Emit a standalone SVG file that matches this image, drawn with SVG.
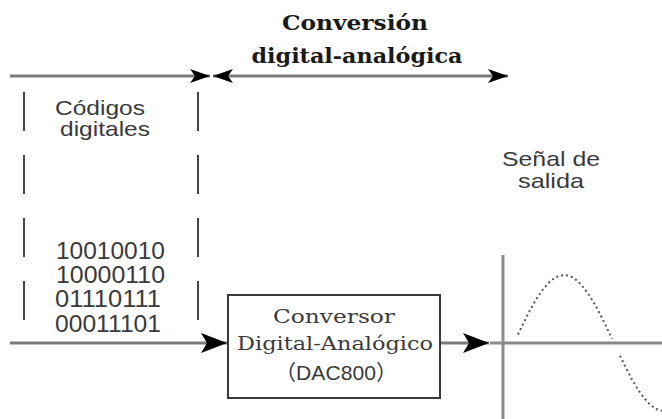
<svg xmlns="http://www.w3.org/2000/svg" width="662" height="419" viewBox="0 0 662 419">
<style>
.title{font-family:"DejaVu Serif","Liberation Serif",serif;font-weight:bold;font-size:21px;fill:#1a1a1a}
.sans{font-family:"Liberation Sans",Arial,sans-serif;font-size:21px;fill:#3a3a3a}
.bin{font-family:"Liberation Sans",Arial,sans-serif;font-size:23px;fill:#3a3a3a}
.serif{font-family:"DejaVu Serif","Liberation Serif",serif;font-size:19px;fill:#3a3a3a}
.cjk{font-family:"Liberation Sans","Noto Sans CJK JP",sans-serif;font-size:21px;fill:#3a3a3a}
.line{stroke:#7a7a7a;stroke-width:3;fill:none}
.dash{stroke:#444;stroke-width:2;stroke-dasharray:39 24;fill:none}
.axis{stroke:#8a8a8a;stroke-width:3;fill:none}
.wave{stroke:#555;stroke-width:2;stroke-dasharray:2 3;fill:none}
.box{fill:#fff;stroke:#3a3a3a;stroke-width:2}
</style>
<defs>
<marker id="ahs" viewBox="0 0 20 14" refX="20" refY="7" markerWidth="20" markerHeight="14" markerUnits="userSpaceOnUse" orient="auto-start-reverse">
<path d="M0,0 L20,7 L0,14 L5,7 Z" fill="#000"/>
</marker>
<marker id="ahb" viewBox="0 0 26 20" refX="26" refY="10" markerWidth="26" markerHeight="20" markerUnits="userSpaceOnUse" orient="auto">
<path d="M0,0 L26,10 L0,20 L6,10 Z" fill="#000"/>
</marker>
</defs>
<g id="title">
<text class="title" x="355" y="30" text-anchor="middle" textLength="146" lengthAdjust="spacingAndGlyphs">Conversión</text>
<text class="title" x="357" y="63" text-anchor="middle" textLength="211" lengthAdjust="spacingAndGlyphs">digital-analógica</text>
</g>
<g id="connectors">
<path class="line" d="M10,76 H210" marker-end="url(#ahs)"/>
<path class="line" d="M213,76 H508" marker-start="url(#ahs)" marker-end="url(#ahs)"/>
<path class="dash" d="M24,92 V322"/>
<path class="dash" d="M198,92 V322"/>
<path class="line" d="M10,343 H227" marker-end="url(#ahb)"/>
<path class="line" d="M440,343 H489" marker-end="url(#ahb)"/>
</g>
<g id="codigos">
<text class="sans" x="55" y="115" textLength="90" lengthAdjust="spacingAndGlyphs">Códigos</text>
<text class="sans" x="60" y="136" textLength="90" lengthAdjust="spacingAndGlyphs">digitales</text>
<text class="bin" x="56" y="259" textLength="109" lengthAdjust="spacingAndGlyphs">10010010</text>
<text class="bin" x="56" y="283" textLength="109" lengthAdjust="spacingAndGlyphs">10000110</text>
<text class="bin" x="55" y="307" textLength="106" lengthAdjust="spacingAndGlyphs">01110111</text>
<text class="bin" x="55" y="332" textLength="106" lengthAdjust="spacingAndGlyphs">00011101</text>
</g>
<g id="dac">
<rect class="box" x="228" y="295" width="212" height="103"/>
<text class="serif" x="334" y="323" text-anchor="middle" textLength="122" lengthAdjust="spacingAndGlyphs">Conversor</text>
<text class="serif" x="335" y="350" text-anchor="middle" textLength="196" lengthAdjust="spacingAndGlyphs">Digital-Analógico</text>
<text class="cjk" x="336" y="380" text-anchor="middle" textLength="122" lengthAdjust="spacingAndGlyphs">（DAC800）</text>
</g>
<g id="salida">
<text class="sans" x="551" y="166" text-anchor="middle" textLength="98" lengthAdjust="spacingAndGlyphs">Señal de</text>
<text class="sans" x="551" y="188" text-anchor="middle" textLength="66" lengthAdjust="spacingAndGlyphs">salida</text>
<path class="axis" d="M490,343 H662"/>
<path class="axis" d="M503,255 V419"/>
<polyline class="wave" points="518,334.5 524,322 530,310.2 536,299.7 542,290.6 548,283.4 554,278.3 560,275.5 566,275.1 572,277.1 578,281.4 584,288 590,296.4 596,306.5 602,318 608,330.3 612,338.7"/>
<polyline class="wave" points="620,355.7 626,368 632,379.5 638,389.6 644,398 650,404.5 656,408.9 662,410.9"/>
</g>
</svg>
